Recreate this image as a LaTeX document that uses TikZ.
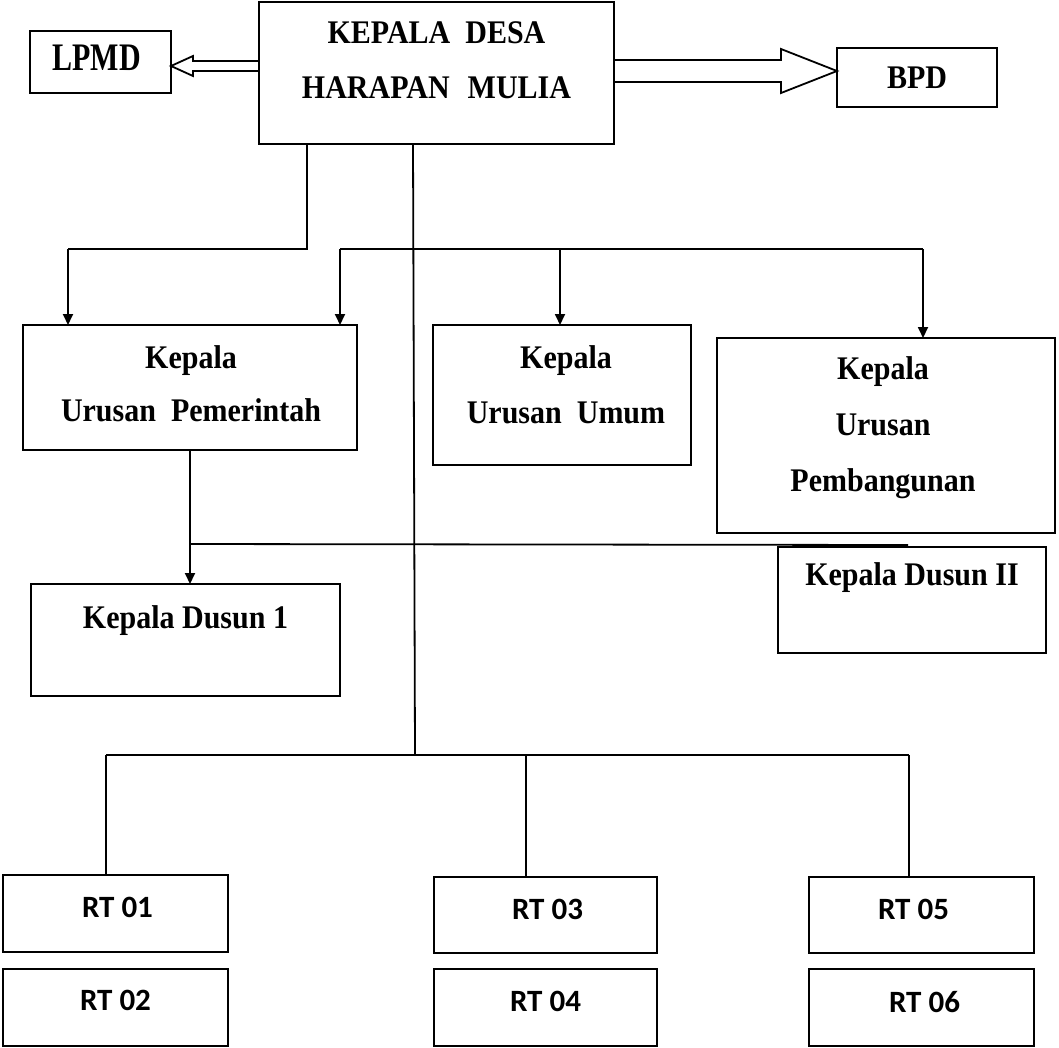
\documentclass[tikz,border=0pt]{standalone}
\usepackage{fontspec}
\usepackage{graphicx}
\setmainfont{Liberation Serif}
\newfontfamily\rtfont{Carlito}
\newcommand\stv[1]{\scalebox{1}[1.1]{#1}}
\usetikzlibrary{arrows.meta,calc}
\begin{document}
\begin{tikzpicture}[x=1pt,y=-1pt,
  box/.style={draw, line width=2pt, inner sep=0pt, outer sep=0pt, rectangle},
  lbl/.style={font=\bfseries\fontsize{30}{55}\selectfont, align=center, inner sep=0pt},
  rtl/.style={font=\rtfont\bfseries\fontsize{31}{37}\selectfont, inner sep=0pt, anchor=base},
  conn/.style={line width=1.8pt, line join=miter},
  arr/.style={conn, -{Triangle[length=11pt,width=10pt]}},
  hollow/.style={line width=1.8pt, line join=miter}
]
\useasboundingbox (0,0) rectangle (1059,1047);
% boxes
\node[box, minimum width=355pt, minimum height=142pt] (kd) at (436.5,73) {};
\node[box, minimum width=141pt, minimum height=62pt] (lpmd) at (100.5,62) {};
\node[box, minimum width=160pt, minimum height=59pt] (bpd) at (917,77.5) {};
\node[box, minimum width=334pt, minimum height=125pt] (pem) at (190,387.5) {};
\node[box, minimum width=258pt, minimum height=140pt] (umum) at (562,395) {};
\node[box, minimum width=338pt, minimum height=195pt] (bang) at (886,435.5) {};
\node[box, minimum width=309pt, minimum height=112pt] (dus1) at (185.5,640) {};
\node[box, minimum width=268pt, minimum height=106pt] (dus2) at (912,600) {};
\node[box, minimum width=225pt, minimum height=77pt] (rt01) at (115.5,913.5) {};
\node[box, minimum width=225pt, minimum height=77pt] (rt02) at (115.5,1007.5) {};
\node[box, minimum width=223pt, minimum height=76pt] (rt03) at (545.5,915) {};
\node[box, minimum width=223pt, minimum height=77pt] (rt04) at (545.5,1007.5) {};
\node[box, minimum width=225pt, minimum height=76pt] (rt05) at (921.5,915) {};
\node[box, minimum width=225pt, minimum height=77pt] (rt06) at (921.5,1007.5) {};
% texts
\node[lbl, anchor=north] (kdt) at ($(kd.north)+(0,19)$) {\stv{KEPALA\hspace{0.5em}DESA}\\\stv{HARAPAN\hspace{0.6em}MULIA}};
\node[lbl, anchor=base] (lpmdt) at ($(lpmd.north)+(-4,39)$) {\scalebox{1}[1.3]{LPMD}};
\node[lbl, anchor=base] (bpdt) at ($(bpd.north)+(0,40)$) {\stv{BPD}};
\node[lbl, anchor=north] (pemt) at ($(pem.north)+(1,20)$) {\stv{Kepala}\\[-2pt]\stv{Urusan\hspace{0.5em}Pemerintah}};
\node[lbl, anchor=north] (umumt) at ($(umum.north)+(4,20)$) {\stv{Kepala}\\\stv{Urusan\hspace{0.5em}Umum}};
\node[lbl, anchor=north, font=\bfseries\fontsize{30}{56}\selectfont] (bangt) at ($(bang.north)+(-3,18)$) {\stv{Kepala}\\\stv{Urusan}\\\stv{Pembangunan}};
\node[lbl, anchor=base] (dus1t) at ($(dus1.north)+(0,44)$) {\stv{Kepala Dusun 1}};
\node[lbl, anchor=base] (dus2t) at ($(dus2.north)+(0,38)$) {\stv{Kepala Dusun II}};
\node[rtl] (rt01t) at ($(rt01.north)+(2,42)$) {RT 01};
\node[rtl] (rt02t) at ($(rt02.north)+(0,41)$) {RT 02};
\node[rtl] (rt03t) at ($(rt03.north)+(2,42)$) {RT 03};
\node[rtl] (rt04t) at ($(rt04.north)+(0,42)$) {RT 04};
\node[rtl] (rt05t) at ($(rt05.north)+(-8,42)$) {RT 05};
\node[rtl] (rt06t) at ($(rt06.north)+(3,43)$) {RT 06};
% hollow arrows
\draw[hollow] ($(kd.west)+(0,-12)$) -- ($(lpmd.east)+(22,-1)$) -- ($(lpmd.east)+(22,-6)$)
  -- ($(lpmd.east)+(0,4)$) -- ($(lpmd.east)+(22,14)$) -- ($(lpmd.east)+(22,9)$) -- ($(kd.west)+(0,-2)$);
\draw[hollow] ($(kd.east)+(0,-13)$) -- ($(bpd.west)+(-56,-17.5)$) -- ($(bpd.west)+(-56,-28.5)$)
  -- ($(bpd.west)+(0,-6.5)$) -- ($(bpd.west)+(-56,15.5)$) -- ($(bpd.west)+(-56,4.5)$) -- ($(kd.east)+(0,9)$);
% connectors
\coordinate (j1) at (307,249);
\coordinate (j1l) at (68,249);
\draw[conn] (kd.south -| j1) -- (j1) -- (j1l);
\draw[arr] (j1l) -- (j1l |- pem.north);
\coordinate (j2l) at (340,249);
\coordinate (j2m) at (560,249);
\coordinate (j2r) at (923,249);
\draw[conn] (j2l) -- (j2r);
\draw[arr] (j2l) -- (j2l |- pem.north);
\draw[arr] (j2m) -- (j2m |- umum.north);
\draw[arr] (j2r) -- (j2r |- bang.north);
\coordinate (k3) at (413,0);
\coordinate (j3) at (415,755);
\draw[conn] (kd.south -| k3) -- (j3);
\coordinate (j3l) at (106,755);
\coordinate (j3m) at (526,755);
\coordinate (j3r) at (909,755);
\draw[conn] (j3l) -- (j3r);
\draw[conn] (j3l) -- (j3l |- rt01.north);
\draw[conn] (j3m) -- (j3m |- rt03.north);
\draw[conn] (j3r) -- (j3r |- rt05.north);
\coordinate (j4) at (190,544);
\coordinate (j4r) at (908,545);
\draw[conn] (pem.south) -- (j4);
\draw[arr] (j4) -- (j4 |- dus1.north);
\draw[conn] (j4) -- (j4r);
\end{tikzpicture}
\end{document}
